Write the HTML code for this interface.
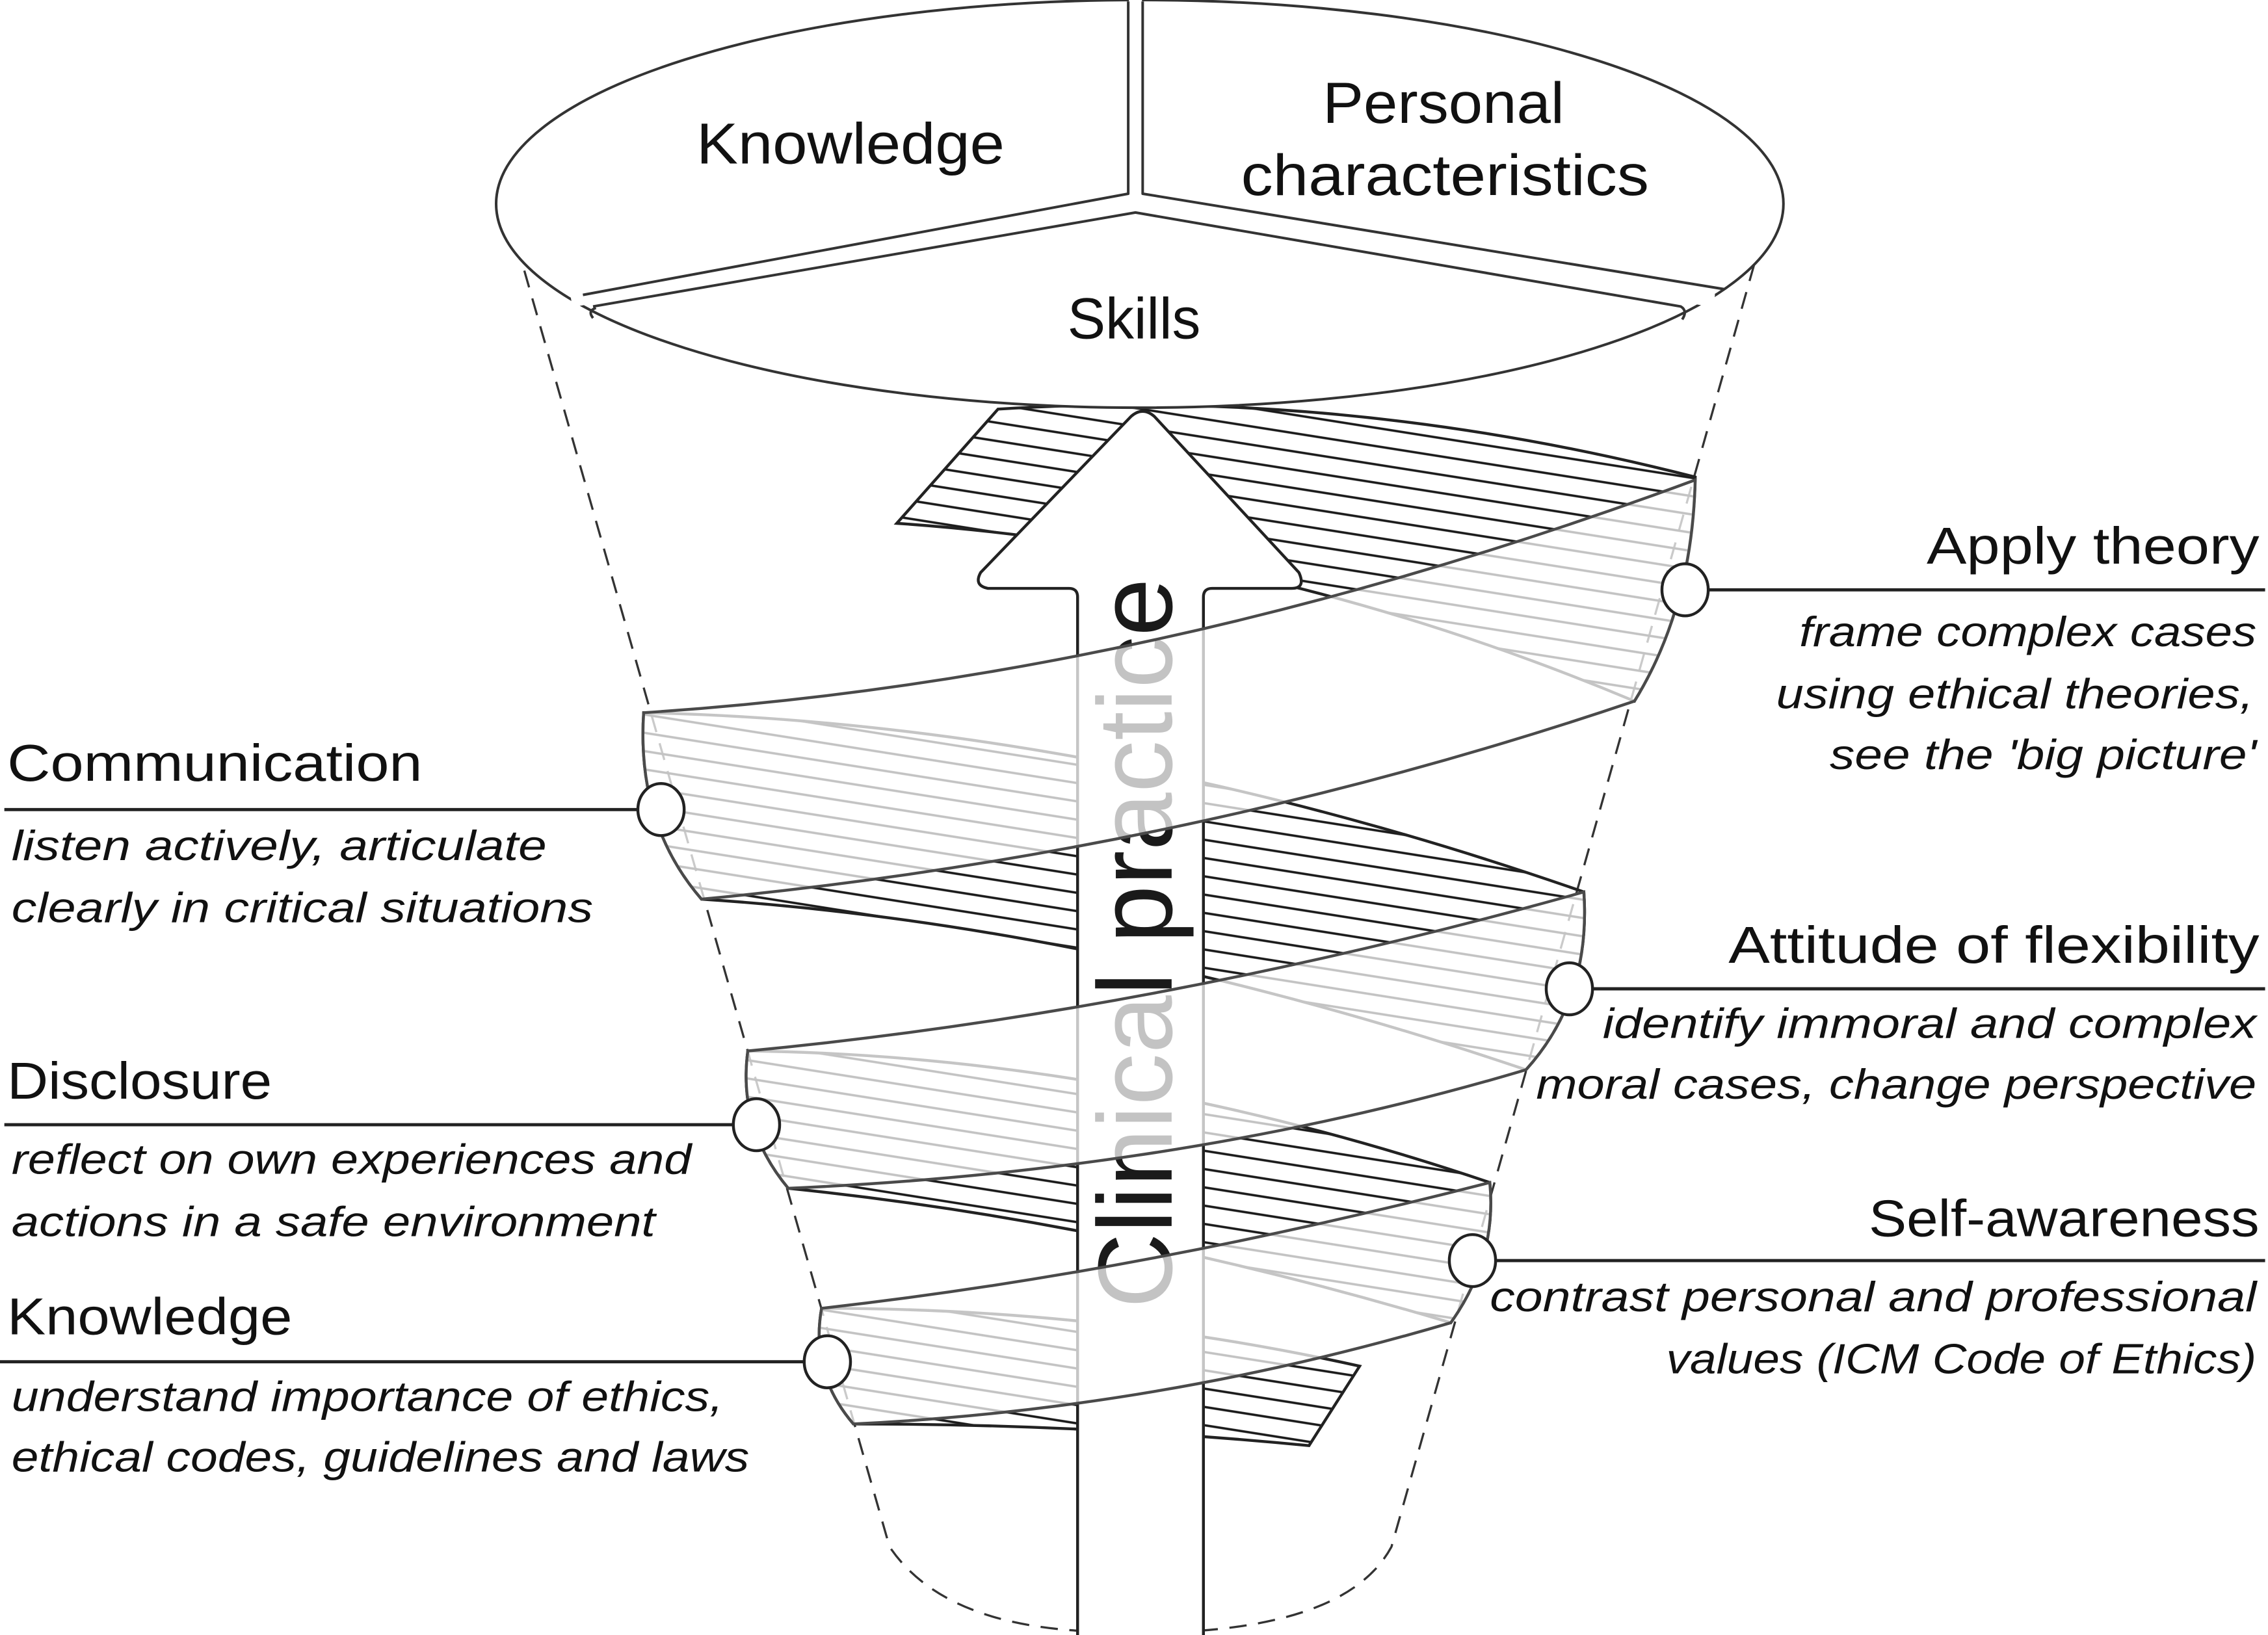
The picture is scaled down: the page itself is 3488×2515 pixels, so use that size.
<!DOCTYPE html>
<html><head><meta charset="utf-8"><style>html,body{margin:0;padding:0;background:#fff}svg{display:block}</style></head>
<body>
<svg xmlns="http://www.w3.org/2000/svg" width="3488" height="2515" viewBox="0 0 1568 1131" preserveAspectRatio="none" font-family="Liberation Sans, sans-serif">
<defs>
<pattern id="h" patternUnits="userSpaceOnUse" width="20" height="12.5" patternTransform="rotate(9)">
<line x1="0" y1="6" x2="20" y2="6" stroke="#1a1a1a" stroke-width="1.6"/>
</pattern>
</defs>
<rect width="1568" height="1131" fill="#fff"/>
<!-- funnel dashed -->
<path d="M357,168 L615,1070 Q650,1122 745,1128 M830,1128 Q935,1120 962,1070 L1217,168" fill="none" stroke="#333" stroke-width="1.5" stroke-dasharray="12,8"/>
<!-- back bands -->
<g stroke="#222" stroke-width="2" fill="url(#h)">
<path d="M690,283 Q930,268 1172,330 Q1170,420 1130,485 Q880,380 620,362 Z"/>
<path d="M445,493 Q760,500 1095,617 Q1100,690 1055,740 Q760,640 485,622 Q440,570 445,493 Z"/>
<path d="M517,727 Q770,730 1030,818 Q1035,870 1003,915 Q770,845 545,822 Q510,780 517,727 Z"/>
<path d="M568,905 Q760,905 940,945 L905,1000 Q750,985 590,985 Q560,950 568,905 Z"/>
</g>
<!-- arrow -->
<path d="M745,1131 L745,413 Q745,407 739,407 L683,407 Q673,405 678,396 L782,288 Q790,281 798,288 L898,396 Q903,407 893,407 L838,407 Q832,407 832,413 L832,1131" fill="#fff" stroke="#222" stroke-width="2"/>
<text transform="translate(810,905) rotate(-90)" font-size="73" fill="#1a1a1a" textLength="505" lengthAdjust="spacingAndGlyphs">Clinical practice</text>
<!-- front bands -->
<g stroke="#4a4a4a" stroke-width="2" fill="#fff" fill-opacity="0.74">
<path d="M1172,332 Q800,470 445,493 Q440,570 485,622 Q820,590 1130,485 Q1170,420 1172,332 Z"/>
<path d="M1095,617 Q800,700 517,727 Q510,780 545,822 Q820,810 1055,740 Q1100,690 1095,617 Z"/>
<path d="M1030,818 Q790,880 568,905 Q560,950 590,985 Q800,975 1003,915 Q1035,870 1030,818 Z"/>
</g>
<!-- top ellipse -->
<ellipse cx="788" cy="141" rx="445" ry="141" fill="#fff" stroke="#333" stroke-width="1.8"/>
<g stroke="#fff" stroke-width="9" fill="none">
<line x1="785" y1="-2" x2="785" y2="141"/>
<polyline points="395,208 785,142 1185,208"/>
</g>
<g stroke="#333" stroke-width="1.8" fill="none" stroke-linejoin="round">
<path d="M780,1 L780,134 L403,204"/>
<path d="M790,1 L790,134 L1192,200"/>
<path d="M412,213 Q406,215 410,220 M410,212 L785,147 L1162,212 Q1167,215 1163,221"/>
</g>
<text x="588" y="113" font-size="40" text-anchor="middle" textLength="213" lengthAdjust="spacingAndGlyphs" fill="#111">Knowledge</text>
<text x="998" y="85" font-size="40" text-anchor="middle" textLength="167" lengthAdjust="spacingAndGlyphs" fill="#111">Personal</text>
<text x="999" y="135" font-size="40" text-anchor="middle" textLength="282" lengthAdjust="spacingAndGlyphs" fill="#111">characteristics</text>
<text x="784" y="234" font-size="40" text-anchor="middle" textLength="92" lengthAdjust="spacingAndGlyphs" fill="#111">Skills</text>
<!-- connectors -->
<g stroke="#222" stroke-width="2.2">
<line x1="1180" y1="408" x2="1566" y2="408"/>
<line x1="3" y1="560" x2="442" y2="560"/>
<line x1="1100" y1="684" x2="1566" y2="684"/>
<line x1="3" y1="778" x2="508" y2="778"/>
<line x1="1033" y1="872" x2="1566" y2="872"/>
<line x1="0" y1="942" x2="557" y2="942"/>
</g>
<g fill="#fff" stroke="#222" stroke-width="2">
<ellipse cx="1165" cy="408" rx="16" ry="18"/>
<ellipse cx="457" cy="560" rx="16" ry="18"/>
<ellipse cx="1085" cy="684" rx="16" ry="18"/>
<ellipse cx="523" cy="778" rx="16" ry="18"/>
<ellipse cx="1018" cy="872" rx="16" ry="18"/>
<ellipse cx="572" cy="942" rx="16" ry="18"/>
</g>
<!-- labels -->
<g fill="#111" lengthAdjust="spacingAndGlyphs">
<text x="1332" y="390" font-size="36" textLength="230" lengthAdjust="spacingAndGlyphs">Apply theory</text>
<g font-style="italic" font-size="29">
<text x="1244" y="447" textLength="316" lengthAdjust="spacingAndGlyphs">frame complex cases</text>
<text x="1228" y="490" textLength="330" lengthAdjust="spacingAndGlyphs">using ethical theories,</text>
<text x="1265" y="532" textLength="295" lengthAdjust="spacingAndGlyphs">see the 'big picture'</text>
</g>
<text x="5" y="540" font-size="36" textLength="287" lengthAdjust="spacingAndGlyphs">Communication</text>
<g font-style="italic" font-size="29">
<text x="8" y="595" textLength="370" lengthAdjust="spacingAndGlyphs">listen actively, articulate</text>
<text x="8" y="638" textLength="402" lengthAdjust="spacingAndGlyphs">clearly in critical situations</text>
</g>
<text x="1195" y="666" font-size="36" textLength="367" lengthAdjust="spacingAndGlyphs">Attitude of flexibility</text>
<g font-style="italic" font-size="29">
<text x="1108" y="718" textLength="452" lengthAdjust="spacingAndGlyphs">identify immoral and complex</text>
<text x="1062" y="760" textLength="498" lengthAdjust="spacingAndGlyphs">moral cases, change  perspective</text>
</g>
<text x="5" y="760" font-size="36" textLength="183" lengthAdjust="spacingAndGlyphs">Disclosure</text>
<g font-style="italic" font-size="29">
<text x="8" y="812" textLength="470" lengthAdjust="spacingAndGlyphs">reflect on own experiences and</text>
<text x="8" y="855" textLength="445" lengthAdjust="spacingAndGlyphs">actions in a safe environment</text>
</g>
<text x="1292" y="855" font-size="36" textLength="270" lengthAdjust="spacingAndGlyphs">Self-awareness</text>
<g font-style="italic" font-size="29">
<text x="1030" y="907" textLength="530" lengthAdjust="spacingAndGlyphs">contrast personal and  professional</text>
<text x="1152" y="950" textLength="408" lengthAdjust="spacingAndGlyphs">values (ICM Code of Ethics)</text>
</g>
<text x="5" y="923" font-size="36" textLength="197" lengthAdjust="spacingAndGlyphs">Knowledge</text>
<g font-style="italic" font-size="29">
<text x="8" y="976" textLength="492" lengthAdjust="spacingAndGlyphs">understand importance of ethics,</text>
<text x="8" y="1018" textLength="510" lengthAdjust="spacingAndGlyphs">ethical codes, guidelines and laws</text>
</g>
</g>
</svg>
</body></html>
